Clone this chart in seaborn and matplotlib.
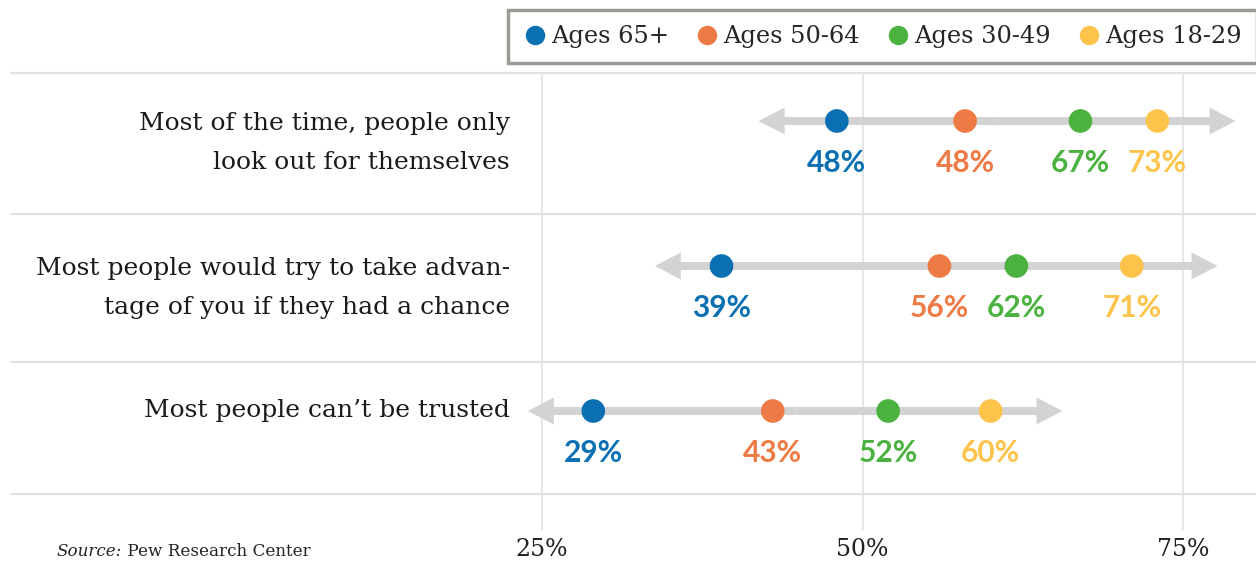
import numpy as np
import pandas as pd
import matplotlib
matplotlib.use("Agg")
import matplotlib.pyplot as plt
import seaborn as sns
from matplotlib.lines import Line2D

# ---------------- data ----------------
statements = [
    "Most of the time, people only\nlook out for themselves",
    "Most people would try to take advan-\ntage of you if they had a chance",
    "Most people can\u2019t be trusted",
]
groups = ["Ages 65+", "Ages 50-64", "Ages 30-49", "Ages 18-29"]
ages_65 = [48, 39, 29]
ages_50_64 = [58, 56, 43]
ages_30_49 = [67, 62, 52]
ages_18_29 = [73, 71, 60]
# printed labels (as shown in the source graphic)
labels_65 = ["48%", "39%", "29%"]
labels_50_64 = ["48%", "56%", "43%"]
labels_30_49 = ["67%", "62%", "52%"]
labels_18_29 = ["73%", "71%", "60%"]
arrow_lo = [41.9, 33.8, 23.9]
arrow_hi = [79.1, 77.7, 65.6]
ticks = [25, 50, 75]
tick_labels = ["25%", "50%", "75%"]
source_lbl = "Source:"
source_txt = " Pew Research Center"

colors = ["#0a70b2", "#ee7b45", "#4bb23f", "#fdc34a"]

# ---------------- build long table ----------------
vals = [ages_65, ages_50_64, ages_30_49, ages_18_29]
labs = [labels_65, labels_50_64, labels_30_49, labels_18_29]
rows = []
for g, v, l in zip(groups, vals, labs):
    for i, s in enumerate(statements):
        rows.append({"statement": s, "row": i, "group": g, "value": v[i], "label": l[i]})
df = pd.DataFrame(rows)

sns.set_theme(style="white")
plt.rcParams["font.family"] = ["DejaVu Serif"]

W, H, DPI = 1256, 563, 100
fig = plt.figure(figsize=(W / DPI, H / DPI), dpi=DPI)
ax = fig.add_axes([0, 0, 1, 1])

pxx = 12.82  # px per percentage point
x0 = 25 - 542 / pxx
x1 = 25 + (W - 542) / pxx
pyy = 145.0
ylim = ((H - 121) / pyy, -121 / pyy)

sep_col = "#e2e2e2"
# horizontal separators
x_sep0 = 25 - (542 - 10) / pxx
for ys in [-0.33, 0.64, 1.66, 2.57]:
    ax.plot([x_sep0, x1], [ys, ys], color=sep_col, lw=1.6, zorder=1, solid_capstyle="butt")
# vertical gridlines
for t in ticks:
    ax.plot([t, t], [-0.33, 2.82], color=sep_col, lw=1.2, zorder=1)

# arrows
arrow_col = "#d3d3d3"
shaft_w = 8 / pyy
head_w = 27 / pyy
head_l = 26 / pxx
for i in range(len(statements)):
    mid = (arrow_lo[i] + arrow_hi[i]) / 2
    for end in (arrow_lo[i], arrow_hi[i]):
        ax.arrow(mid, i, end - mid, 0, width=shaft_w, head_width=head_w,
                 head_length=head_l, length_includes_head=True,
                 color=arrow_col, lw=0, zorder=2)

# dots
sns.scatterplot(data=df, x="value", y="row", hue="group", hue_order=groups,
                palette=colors, s=290, edgecolor="none", linewidth=0,
                legend=False, ax=ax, zorder=3)
ax.set_xlim(x0, x1)
ax.set_ylim(*ylim)
ax.set_axis_off()

# value labels
cmap = dict(zip(groups, colors))
for _, r in df.iterrows():
    ax.text(r["value"], r["row"] + 42 / pyy, r["label"], ha="center", va="center",
            fontsize=21.5, fontweight="bold", color=cmap[r["group"]],
            family=["Lato", "DejaVu Sans"], zorder=4)

# statement labels
xl = 25 - (542 - 510) / pxx
for i, s in enumerate(statements):
    n = s.count("\n")
    ax.text(xl, i + n * 22 / pyy, s, ha="right", va="center", fontsize=18,
            color="#1a1a1a", linespacing=1.85)

# tick labels
for t, tl in zip(ticks, tick_labels):
    ax.text(t, (549 - 121) / pyy, tl, ha="center", va="center", fontsize=17, color="#222222")

# source
t1 = fig.text(57 / W, 1 - 551 / H, source_lbl, ha="left", va="center", fontsize=12.1,
              style="italic", color="#222222")
ax.annotate(source_txt, xy=(1, 0), xycoords=t1, ha="left", va="bottom",
            fontsize=12.1, color="#222222")

# legend
handles = [Line2D([], [], marker="o", ls="", markersize=14, markerfacecolor=c,
                  markeredgecolor="none") for c in colors]
leg = fig.legend(handles, groups, ncol=4, loc="upper left",
                 bbox_to_anchor=(508 / W, 1 - 10 / H), borderaxespad=0,
                 frameon=True, fancybox=False, edgecolor="#9c9a94", framealpha=1,
                 fontsize=17.4, handletextpad=0.15, columnspacing=1.1, handlelength=1.0,
                 borderpad=0.62)
leg.get_frame().set_linewidth(2.5)

fig.savefig("out.png", dpi=DPI, facecolor="white")
